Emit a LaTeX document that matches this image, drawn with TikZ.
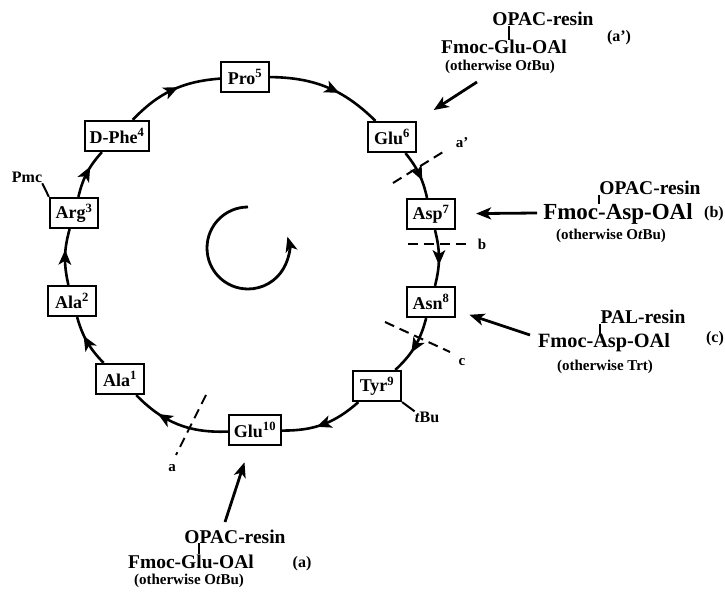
\documentclass[tikz,border=0pt]{standalone}
\usepackage{fontspec}
\setmainfont{Liberation Serif}
\usetikzlibrary{arrows.meta, decorations.markings}

\begin{document}
\begin{tikzpicture}[x=1pt,y=1pt,
  residue/.style={draw, line width=2.2pt, font=\fontsize{18}{20}\selectfont\bfseries,
    inner xsep=5pt, inner ysep=2pt, minimum width=48pt, minimum height=30pt},
  reagent/.style={font=\fontsize{19.5}{22}\selectfont\bfseries, inner sep=0pt, anchor=base},
  note/.style={font=\fontsize{15}{17}\selectfont\bfseries, inner sep=0pt, anchor=base},
  tag/.style={font=\fontsize{16}{18}\selectfont\bfseries, inner sep=0pt, anchor=base},
  cutlabel/.style={font=\fontsize{15}{17}\selectfont\bfseries, inner sep=0pt},
  flow/.style={line width=2.6pt, postaction={decorate},
    decoration={markings, mark=at position #1 with {\fill (7,0) -- (-8,6.5) -- (-4,0) -- (-8,-6.5) -- cycle;}}},
  flow/.default=0.5,
  feed/.style={line width=2.8pt, -{Stealth[length=15pt,width=12pt,inset=4pt]}},
  cutline/.style={line width=2pt, dash pattern=on 10pt off 6pt},
  resinlink/.style={line width=1.4pt},
  sidelink/.style={line width=2pt}
]
  \useasboundingbox (0,0) rectangle (725,592);

  % residues round the ring
  \node[residue] (pro5)  at (245,515) {Pro\textsuperscript{5}};
  \node[residue] (glu6)  at (392,455) {Glu\textsuperscript{6}};
  \node[residue] (asp7)  at (431,378) {Asp\textsuperscript{7}};
  \node[residue] (asn8)  at (431,290) {Asn\textsuperscript{8}};
  \node[residue] (tyr9)  at (377,206) {Tyr\textsuperscript{9}};
  \node[residue] (glu10) at (255,162) {Glu\textsuperscript{10}};
  \node[residue] (ala1)  at (120,213) {Ala\textsuperscript{1}};
  \node[residue] (ala2)  at (72,291)  {Ala\textsuperscript{2}};
  \node[residue] (arg3)  at (74,379)  {Arg\textsuperscript{3}};
  \node[residue] (dphe4) at (117,456) {D-Phe\textsuperscript{4}};

  \draw[flow] (ala1)  to[bend left=14] (ala2);
  \draw[flow] (ala2)  to[bend left=14] (arg3);
  \draw[flow] (arg3)  to[bend left=14] (dphe4);
  \draw[flow] (dphe4) to[bend left=21] (pro5);
  \draw[flow=0.55] (pro5) to[bend left=22] (glu6);
  \draw[flow] (glu6)  to[bend left=13] (asp7);
  \draw[flow] (asp7)  to[bend left=14] (asn8);
  \draw[flow] (asn8)  to[bend left=16] (tyr9);
  \draw[flow] (tyr9)  to[bend left=21] (glu10);
  \draw[flow=0.65] (glu10) to[bend left=24] (ala1);

  % side-chain groups
  \node[tag] (pmc) at (27,409) {Pmc};
  \draw[sidelink] (pmc.south east) -- (arg3.north west);
  \node[tag] (tbu) at (427,170) {\textit{t}Bu};
  \draw[sidelink] (tyr9.south east) -- (tbu.north west);

  % ring direction
  \coordinate (spin) at (248,344);
  \draw[line width=2.8pt, -{Stealth[length=15pt,width=12pt,inset=4pt]}]
    ([shift={(90:41)}]spin) arc[start angle=90, end angle=376, radius=41];

  % cleavage sites
  \draw[cutline] (206,197) -- (176,137);
  \node[cutlabel] (cutA) at (172,124) {a};
  \draw[cutline] (393,409) -- (443,440);
  \node[cutlabel] (cutAp) at (462,449) {a'};
  \draw[cutline] (408,348) -- (468,348);
  \node[cutlabel] (cutB) at (482,348) {b};
  \draw[cutline] (385,270) -- (450,240);
  \node[cutlabel] (cutC) at (462,230) {c};

  % anchoring (a')
  \node[reagent] (resinAp) at (543,566) {OPAC-resin};
  \node[reagent] (fmocAp)  at (504,538) {Fmoc-Glu-OAl};
  \node[note]    (otherAp) at (500,521) {(otherwise O\textit{t}Bu)};
  \node[tag]     (tagAp)   at (619,550) {(a')};
  \draw[resinlink] (509,0 |- resinAp.south) -- (509,0 |- fmocAp.north);
  \coordinate (feedAp) at (477,510);
  \draw[feed, shorten >=20pt] (feedAp) -- (glu6);

  % anchoring (b)
  \node[reagent] (resinB) at (650,397) {OPAC-resin};
  \node[reagent, font=\fontsize{23}{26}\selectfont\bfseries] (fmocB) at (618,372) {Fmoc-Asp-OAl};
  \node[note]    (otherB) at (611,352) {(otherwise O\textit{t}Bu)};
  \node[tag]     (tagB)   at (714,374) {(b)};
  \draw[resinlink] (599,0 |- resinB.south) -- (599,0 |- fmocB.north);
  \coordinate (feedB) at (537,379);
  \draw[feed, shorten >=20pt] (feedB) -- (asp7);

  % anchoring (c)
  \node[reagent] (resinC) at (643,268) {PAL-resin};
  \node[reagent, font=\fontsize{20.3}{23}\selectfont\bfseries] (fmocC) at (604,244) {Fmoc-Asp-OAl};
  \node[note]    (otherC) at (605,222) {(otherwise Trt)};
  \node[tag]     (tagC)   at (715,249) {(c)};
  \draw[resinlink] (600,0 |- resinC.south) -- (600,0 |- fmocC.north);
  \coordinate (feedC) at (530,257);
  \draw[feed, shorten >=14pt] (feedC) -- (asn8);

  % anchoring (a)
  \node[reagent] (resinA) at (235,49) {OPAC-resin};
  \node[reagent] (fmocA)  at (191,24) {Fmoc-Glu-OAl};
  \node[note]    (otherA) at (189,8)  {(otherwise O\textit{t}Bu)};
  \node[tag]     (tagA)   at (302,25) {(a)};
  \draw[resinlink] (199,0 |- resinA.south) -- (199,0 |- fmocA.north);
  \coordinate (feedA) at (225,70);
  \draw[feed, shorten >=17pt] (feedA) -- (glu10);
\end{tikzpicture}
\end{document}
